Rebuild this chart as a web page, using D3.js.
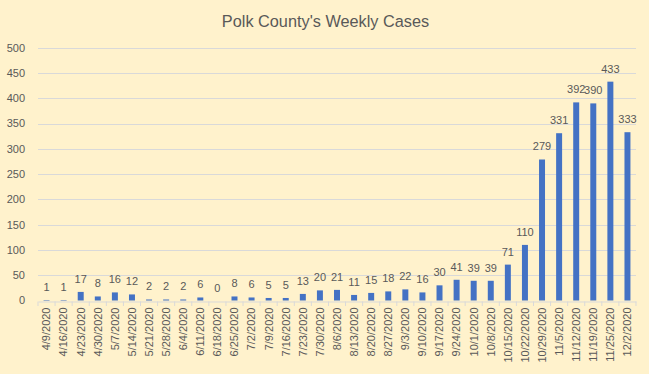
<!DOCTYPE html>
<html>
<head>
<meta charset="utf-8">
<script src="https://cdn.jsdelivr.net/npm/d3@7"></script>
<style>
  body { margin: 0; background: #fff2cc; }
  text { font-family: "Liberation Sans", Arial, sans-serif; fill: #595959; }
</style>
</head>
<body>
<div id="chart"></div>
<script>
var weeks = ['4/9/2020','4/16/2020','4/23/2020','4/30/2020','5/7/2020','5/14/2020','5/21/2020',
  '5/28/2020','6/4/2020','6/11/2020','6/18/2020','6/25/2020','7/2/2020','7/9/2020','7/16/2020',
  '7/23/2020','7/30/2020','8/6/2020','8/13/2020','8/20/2020','8/27/2020','9/3/2020','9/10/2020',
  '9/17/2020','9/24/2020','10/1/2020','10/8/2020','10/15/2020','10/22/2020','10/29/2020',
  '11/5/2020','11/12/2020','11/19/2020','11/25/2020','12/2/2020'];
var cases = [1,1,17,8,16,12,2,2,2,6,0,8,6,5,5,13,20,21,11,15,18,22,16,30,41,39,39,71,110,279,331,392,390,433,333];
var yTicks = [0,50,100,150,200,250,300,350,400,450,500];

var width = 649, height = 374;
var plotLeft = 38, plotRight = 636, plotTop = 47.8, plotBottom = 300.5;

var svg = d3.select('#chart').append('svg')
  .attr('width', width)
  .attr('height', height);

svg.append('rect').attr('width', width).attr('height', height).attr('fill', '#fff2cc');

var x = d3.scaleBand().domain(weeks).range([plotLeft, plotRight]).paddingInner(0.65).paddingOuter(0.325);
var y = d3.scaleLinear().domain([0, 500]).range([plotBottom, plotTop]);

// title
svg.append('text')
  .attr('x', 325.5).attr('y', 27)
  .attr('text-anchor', 'middle')
  .style('font-size', '16.3px')
  .text("Polk County's Weekly Cases");

// gridlines
svg.selectAll('line.grid').data(yTicks.slice(1))
  .enter().append('line')
  .attr('class', 'grid')
  .attr('x1', plotLeft).attr('x2', plotRight)
  .attr('y1', function(d){ return Math.round(y(d)) + 0.5; })
  .attr('y2', function(d){ return Math.round(y(d)) + 0.5; })
  .attr('stroke', '#d9d9d9');

// y labels
svg.selectAll('text.ytick').data(yTicks)
  .enter().append('text')
  .attr('class', 'ytick')
  .attr('x', 25).attr('y', function(d){ return y(d); })
  .attr('dy', '0.35em')
  .attr('text-anchor', 'end')
  .style('font-size', '11px')
  .text(function(d){ return d; });

// bars
svg.selectAll('rect.bar').data(cases)
  .enter().append('rect')
  .attr('class', 'bar')
  .attr('x', function(d, i){ return x(weeks[i]); })
  .attr('y', function(d){ return y(d); })
  .attr('width', x.bandwidth())
  .attr('height', function(d){ return plotBottom - y(d); })
  .attr('fill', '#4472c4');

// value labels
svg.selectAll('text.val').data(cases)
  .enter().append('text')
  .attr('class', 'val')
  .attr('x', function(d, i){ return x(weeks[i]) + x.bandwidth() / 2; })
  .attr('y', function(d){ return y(d) - 9; })
  .attr('text-anchor', 'middle')
  .style('font-size', '11px')
  .text(function(d){ return d; });

// x axis
var xAxis = d3.axisBottom(x).tickSize(0).tickPadding(0);
var gx = svg.append('g').attr('transform', 'translate(0,' + (Math.round(plotBottom) + 0.5) + ')').call(xAxis);
gx.select('.domain').attr('stroke', '#d9d9d9');
gx.selectAll('text')
  .style('font-size', '11px')
  .attr('fill', '#595959')
  .attr('transform', 'rotate(-90)')
  .attr('text-anchor', 'end')
  .attr('x', -6).attr('y', 0).attr('dy', '0.35em');

// category boundary ticks
var step = x.step();
svg.selectAll('line.xtick').data(d3.range(weeks.length + 1))
  .enter().append('line')
  .attr('class', 'xtick')
  .attr('x1', function(d){ return plotLeft + d * step; })
  .attr('x2', function(d){ return plotLeft + d * step; })
  .attr('y1', Math.round(plotBottom) + 0.5).attr('y2', Math.round(plotBottom) + 5)
  .attr('stroke', '#d9d9d9');
</script>
</body>
</html>
